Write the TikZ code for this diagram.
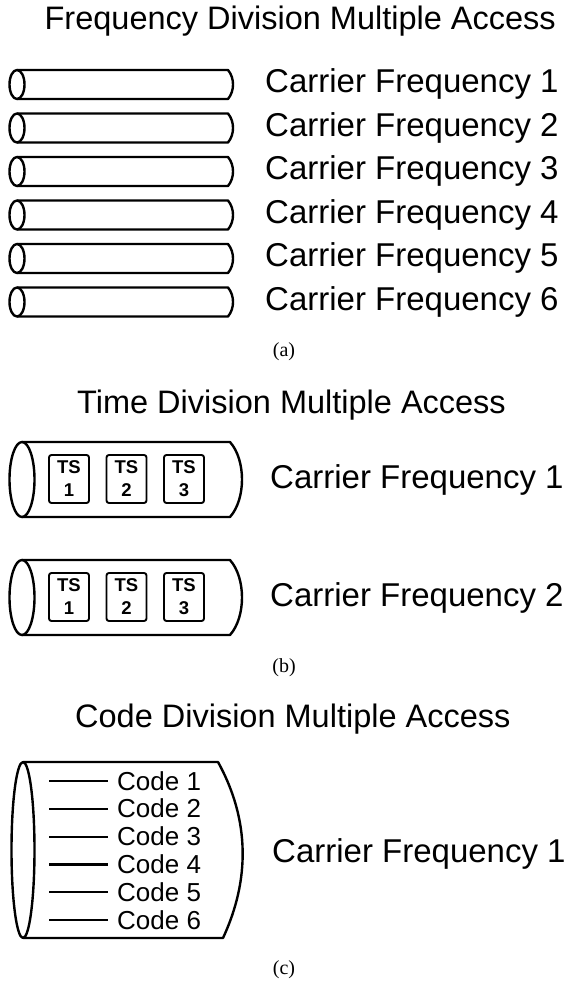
\documentclass[tikz,border=0pt]{standalone}
\usepackage{fontspec}
\setmainfont{Liberation Sans}
\newfontfamily\capfont{Liberation Serif}
\usepackage{tikz}

\begin{document}
\begin{tikzpicture} [x=1pt, y=-1pt,
		pipe/.style={line width=2.4pt, line join=round},
		title/.style={font=\fontsize{32.5}{39}\selectfont, inner sep=0pt},
		carrier/.style={font=\fontsize{33}{40}\selectfont, inner sep=0pt, anchor=base west},
		caption/.style={font=\capfont\fontsize{20}{24}\selectfont, inner sep=0pt},
		slot/.style={draw, line width=1.9pt, rounded corners=2.5pt, minimum width=40pt, minimum height=48pt, inner sep=0pt, align=center, font=\bfseries\fontsize{18.5}{23}\selectfont},
		codeline/.style={line width=2.2pt},
		codetext/.style={font=\fontsize{26}{30}\selectfont, inner sep=0pt, anchor=base west}]
			\useasboundingbox (0,0) rectangle (567,981);
			\node at (556, 30) (fdma) [title, anchor=base east] {Frequency Division Multiple Access};
			\foreach \i in {1,...,6} {
				\pgfmathsetmacro{\top}{70 + 43.5*(\i-1)}
				\draw [pipe] (17,\top) -- (228,\top) .. controls (234.7,\top+8) and (234.7,\top+21) .. (228,\top+29) -- (17,\top+29);
				\draw [pipe] (17,\top+14.5) ellipse [x radius=7.5, y radius=14.5];
				\node at (265,\top+23) (f\i) [carrier] {Carrier Frequency \i};
			}
			\node at (284, 352) (capa) [caption] {(a)};
			\node at (77, 413) (tdma) [title, anchor=base west] {Time Division Multiple Access};
			\foreach \i/\top in {1/442, 2/560} {
				\draw [pipe] (22,\top) -- (230,\top) .. controls (246,\top+18) and (246,\top+57) .. (230,\top+75) -- (22,\top+75);
				\draw [pipe] (22,\top+37.5) ellipse [x radius=12.5, y radius=37.5];
				\foreach \s/\x in {1/69, 2/126.5, 3/184}
					\node at (\x,\top+37) (ts\i\s) [slot] {TS\\\s};
				\node at (270,\top+46) (t\i) [carrier] {Carrier Frequency \i};
			}
			\node at (284, 668) (capb) [caption] {(b)};
			\node at (75, 727) (cdma) [title, anchor=base west] {Code Division Multiple Access};
			\draw [pipe] (23,762) -- (218,762) .. controls (250,820) and (250,880) .. (223,938) -- (23,938);
			\draw [pipe] (23,850) ellipse [x radius=11.5, y radius=88];
			\foreach \c in {1,...,6} {
				\pgfmathsetmacro{\yc}{781 + 27.8*(\c-1)}
				\coordinate (cl\c) at (49,\yc);
				\node at (117,\yc+9) (code\c) [codetext] {Code \c};
				\draw [codeline] (cl\c) -- (108,\yc);
			}
			\node at (272, 862) (c1) [carrier] {Carrier Frequency 1};
			\node at (284, 970) (capc) [caption] {(c)};
		\end{tikzpicture}
\end{document}
